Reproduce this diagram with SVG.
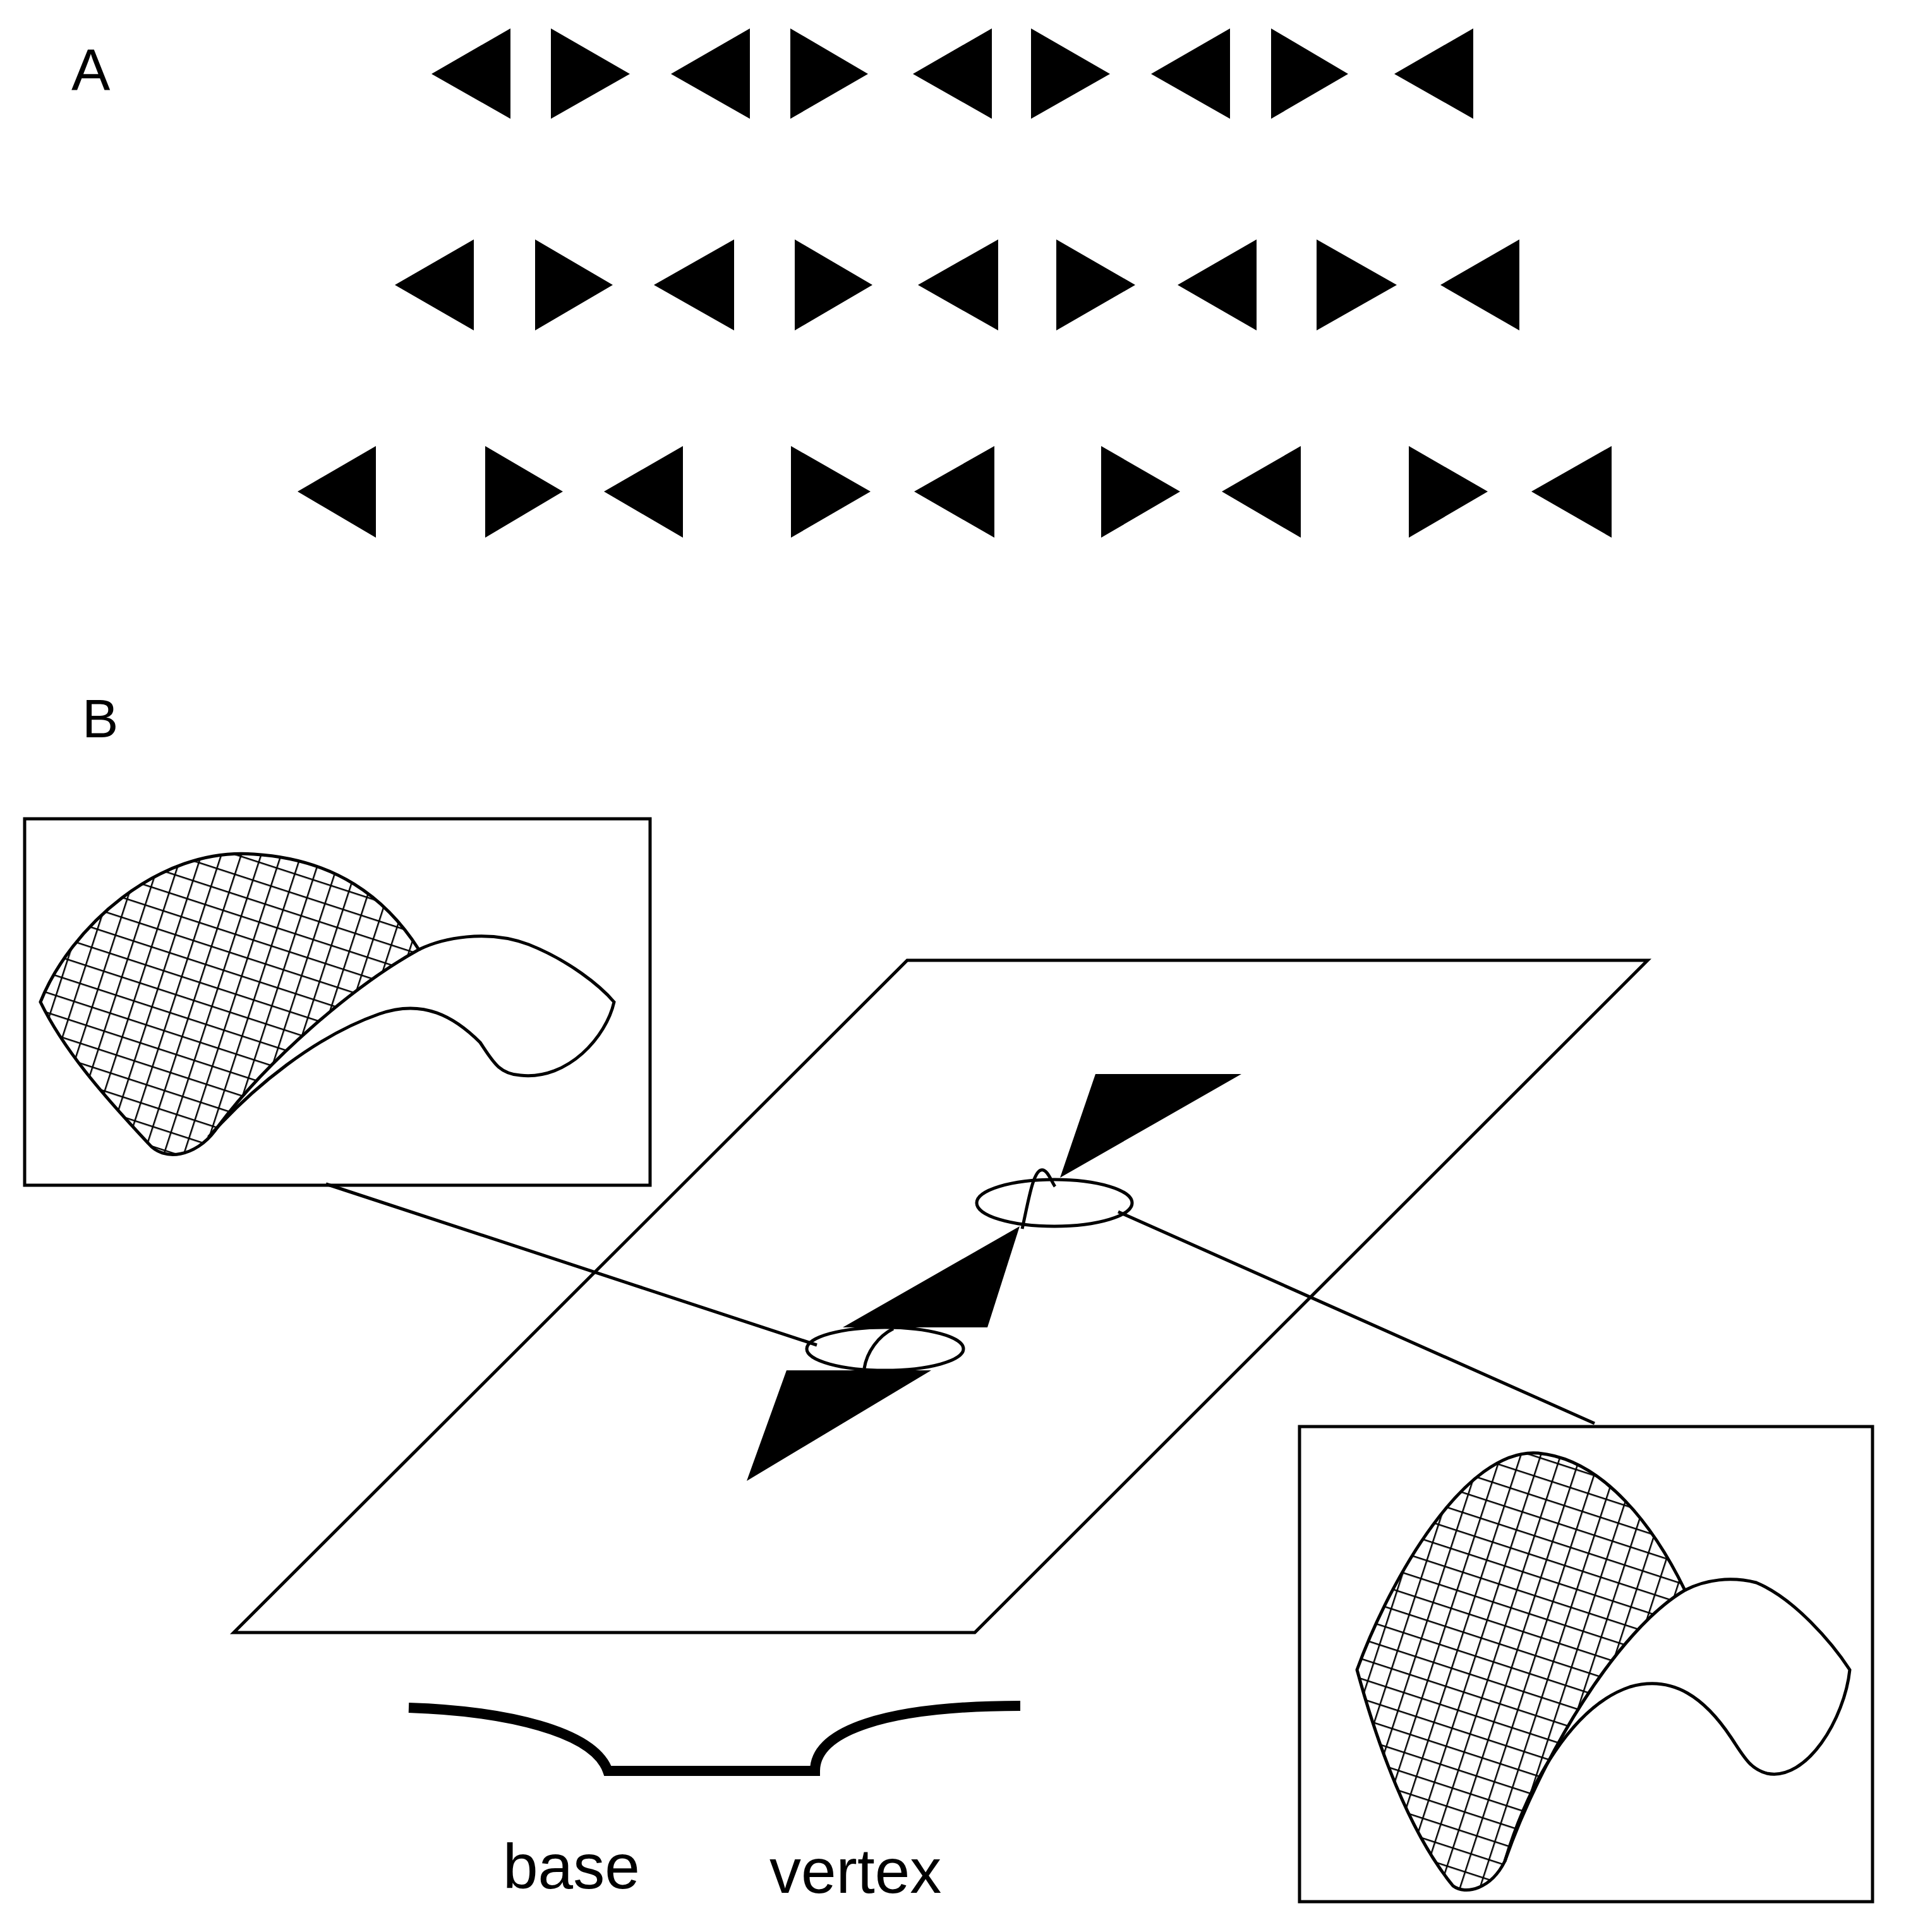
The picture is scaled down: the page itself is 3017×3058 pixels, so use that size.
<svg xmlns="http://www.w3.org/2000/svg" width="3017" height="3058" viewBox="0 0 3017 3058">
<style>
.tri{fill:#000}
.ln{fill:none;stroke:#000;stroke-width:5}
.lbl{font-family:"Liberation Sans",Arial,sans-serif;fill:#000}
</style>
<defs>
<pattern id="grid" width="30" height="30" patternUnits="userSpaceOnUse" patternTransform="rotate(18)">
<path d="M0,0 H30 M0,0 V30" stroke="#000" stroke-width="5" fill="none"/>
</pattern>
</defs>
<rect width="3017" height="3058" fill="#fff"/>
<text class="lbl" x="113" y="143" font-size="92">A</text>
<text class="lbl" x="130" y="1167" font-size="86">B</text>
<g id="row1">
<polygon class="tri" points="683,117 808,45 808,188"/>
<polygon class="tri" points="997,117 872,45 872,188"/>
<polygon class="tri" points="1062,117 1187,45 1187,188"/>
<polygon class="tri" points="1374,117 1251,45 1251,188"/>
<polygon class="tri" points="1445,117 1570,45 1570,188"/>
<polygon class="tri" points="1757,117 1632,45 1632,188"/>
<polygon class="tri" points="1822,117 1947,45 1947,188"/>
<polygon class="tri" points="2134,117 2012,45 2012,188"/>
<polygon class="tri" points="2207,117 2332,45 2332,188"/>
</g>
<g id="row2">
<polygon class="tri" points="625,451 750,379 750,523"/>
<polygon class="tri" points="970,451 847,379 847,523"/>
<polygon class="tri" points="1035,451 1162,379 1162,523"/>
<polygon class="tri" points="1381,451 1258,379 1258,523"/>
<polygon class="tri" points="1453,451 1580,379 1580,523"/>
<polygon class="tri" points="1797,451 1672,379 1672,523"/>
<polygon class="tri" points="1864,451 1989,379 1989,523"/>
<polygon class="tri" points="2211,451 2084,379 2084,523"/>
<polygon class="tri" points="2280,451 2405,379 2405,523"/>
</g>
<g id="row3">
<polygon class="tri" points="471,778 595,706 595,851"/>
<polygon class="tri" points="891,778 768,706 768,851"/>
<polygon class="tri" points="956,778 1081,706 1081,851"/>
<polygon class="tri" points="1378,778 1252,706 1252,851"/>
<polygon class="tri" points="1447,778 1574,706 1574,851"/>
<polygon class="tri" points="1868,778 1743,706 1743,851"/>
<polygon class="tri" points="1934,778 2059,706 2059,851"/>
<polygon class="tri" points="2355,778 2230,706 2230,851"/>
<polygon class="tri" points="2424,778 2551,706 2551,851"/>
</g>
<g id="plane">
<polygon class="ln" points="1436,1520 2608,1520 1543,2584 370,2584"/>
<polygon class="tri" points="1734,1700 1965,1700 1678,1864"/>
<polygon class="tri" points="1614,1941 1334,2101 1563,2101"/>
<polygon class="tri" points="1245,2169 1474,2169 1182,2344"/>
<ellipse class="ln" cx="1669" cy="1904" rx="123" ry="37"/>
<ellipse class="ln" cx="1401" cy="2135" rx="124" ry="34"/>
<path class="ln" d="M1618,1945 C1628,1900 1635,1855 1648,1852 C1658,1850 1664,1870 1670,1878"/>
<path class="ln" d="M1368,2166 C1372,2140 1390,2115 1414,2103"/>
</g>
<g id="connectors">
<line class="ln" x1="516" y1="1874" x2="1293" y2="2129"/>
<line class="ln" x1="1770" y1="1918" x2="2524" y2="2253"/>
</g>
<g id="inset-left">
<rect class="ln" x="39" y="1296" width="990" height="580"/>
<path d="M64,1586 C110,1470 250,1340 402,1352 C530,1360 610,1420 663,1503 C560,1560 420,1680 340,1790 C310,1830 260,1840 235,1810 C160,1730 100,1660 64,1586 Z" fill="url(#grid)" stroke="#000" stroke-width="5"/>
<path class="ln" d="M663,1503 C700,1485 770,1470 837,1495 C900,1520 950,1560 972,1586 C960,1640 900,1710 824,1702 C790,1700 780,1680 760,1650 C720,1610 670,1580 600,1605 C500,1640 400,1720 330,1800"/>
</g>
<g id="inset-right">
<rect class="ln" x="2057" y="2258" width="907" height="752"/>
<path d="M2148,2643 C2200,2500 2320,2290 2435,2300 C2540,2310 2620,2420 2667,2517 C2560,2580 2440,2780 2382,2946 C2360,2990 2320,3000 2300,2985 C2230,2900 2180,2760 2148,2643 Z" fill="url(#grid)" stroke="#000" stroke-width="5"/>
<path class="ln" d="M2667,2517 C2700,2500 2740,2495 2780,2505 C2840,2530 2900,2600 2928,2643 C2920,2720 2860,2820 2797,2807 C2770,2800 2760,2780 2740,2750 C2700,2690 2650,2650 2580,2670 C2490,2700 2420,2820 2382,2946"/>
</g>
<g id="profile">
<path d="M647,2703 C800,2708 940,2740 962,2803 L1298,2803" fill="none" stroke="#000" stroke-width="16"/>
<path d="M1290,2803 C1290,2740 1400,2700 1615,2700" fill="none" stroke="#000" stroke-width="16"/>
<text class="lbl" x="796" y="2989" font-size="100">base</text>
<text class="lbl" x="1218" y="2996" font-size="100">vertex</text>
</g>
</svg>
